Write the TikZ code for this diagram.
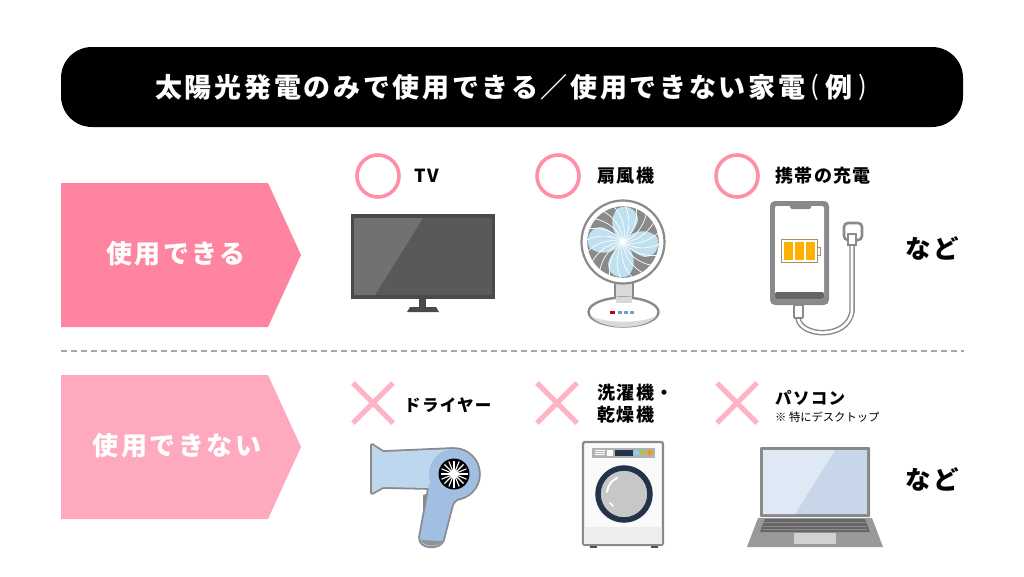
\documentclass[tikz,border=0pt]{standalone}
\usepackage{fontspec}
\setmainfont{Noto Sans CJK JP}
\newfontfamily\jpt[LetterSpace=10]{Noto Sans CJK JP}
\newfontfamily\jpm[LetterSpace=8]{Noto Sans CJK JP}
\definecolor{pinkA}{HTML}{FF84A0}
\definecolor{pinkB}{HTML}{FFA9BE}
\definecolor{ringC}{HTML}{FF8FA8}
\definecolor{crossC}{HTML}{FFB3C4}
\definecolor{devG}{HTML}{8A8A8A}
\definecolor{tvF}{HTML}{4A4A4C}
\definecolor{tvS}{HTML}{58595B}
\definecolor{tvH}{HTML}{707173}
\definecolor{bladeC}{HTML}{BFE0EE}
\definecolor{nozC}{HTML}{BDD7EE}
\definecolor{bodyC}{HTML}{A0BFE2}
\definecolor{navyC}{HTML}{24324A}
\definecolor{battC}{HTML}{A89060}
\definecolor{cellC}{HTML}{FFB000}
\definecolor{scrA}{HTML}{C7D6E8}
\definecolor{scrB}{HTML}{DFE9F5}
\tikzset{
  lab/.style={anchor=west,inner sep=0pt,font=\jpm\bfseries\fontsize{16.5}{20}\selectfont,text=black},
  labk/.style={anchor=west,inner sep=0pt,font=\jpm\bfseries\fontsize{18}{20}\selectfont,text=black},
  head/.style={inner sep=0pt,font=\jpt\bfseries\fontsize{26}{30}\selectfont,text=white},
  ttl/.style={inner sep=0pt,font=\jpt\bfseries\fontsize{27}{30}\selectfont,text=white},
  prn/.style={inner sep=0pt,font=\fontsize{26}{30}\selectfont,text=white},
  nado/.style={inner sep=0pt,font=\jpm\bfseries\fontsize{25.5}{30}\selectfont,text=black},
  okring/.style={draw=ringC,line width=3.6pt,fill=white},
  ngcross/.style={draw=crossC,line width=5pt},
  cableO/.style={draw=devG,line width=5.5pt,line cap=round},
  cableI/.style={draw=white,line width=2.6pt,line cap=round},
}
\begin{document}
\begin{tikzpicture}[x=1pt,y=-1pt]
\useasboundingbox (0,0) rectangle (1024,576);
\fill[white] (0,0) rectangle (1024,576);
% title
\fill[black,rounded corners=31pt] (61,47) rectangle (963,127);
\node[ttl,anchor=west] (title) at (155,87) {太陽光発電のみで使用できる／使用できない家電};
\node[prn] (tl) at (815,87) {(};
\node[ttl] (tm) at (839,87) {例};
\node[prn] (tr) at (863,87) {)};
% category arrows
\fill[pinkA] (61,183) -- (268,183) -- (301,255) -- (268,327) -- (61,327) -- cycle;
\node[head] (can) at (176,254) {使用できる};
\fill[pinkB] (61,375) -- (268,375) -- (301,447) -- (268,519) -- (61,519) -- cycle;
\node[head] (cannot) at (177,446) {使用できない};
% divider
\draw[draw=black!35,line width=1.2pt,dash pattern=on 6pt off 4pt] (61,351) -- (964,351);
% marks
\foreach \x in {378,558,737} \draw[okring] (\x,176) circle (21);
\foreach \x in {373,557,737} {
  \draw[ngcross] (\x-20,383) -- (\x+20,423);
  \draw[ngcross] (\x+20,383) -- (\x-20,423);
}
% labels
\node[labk] (tv) at (414,176) {TV};
\node[labk] (fanl) at (597,176) {扇風機};
\node[labk] (phl) at (775,176) {携帯の充電};
\node[lab] (dryl) at (404,405) {ドライヤー};
\node[labk] (wa1) at (597,393) {洗濯機・};
\node[labk] (wa2) at (597,415) {乾燥機};
\node[lab] (pcl) at (775,398) {パソコン};
\node[anchor=west,inner sep=0pt,font=\fontsize{11.3}{13}\selectfont] (pcn) at (775,417) {※ 特にデスクトップ};
\node[nado] (n1) at (932,248) {など};
\node[nado] (n2) at (932,479) {など};
% TV
\fill[tvF] (351,214) rectangle (495,299);
\fill[tvS] (354,218) rectangle (492,295);
\fill[tvH] (354,218) -- (423,218) -- (375,295) -- (354,295) -- cycle;
\fill[tvF] (419,299) rectangle (426,308);
\fill[tvF] (410,307) -- (436,307) -- (439,312) -- (407,312) -- cycle;
% Fan
\draw[devG,line width=2.2pt,fill=black!15] (615,280) rectangle (633,304);
\draw[devG,line width=2.4pt,fill=white] (623.5,312) ellipse (35 and 14.5);
\fill[black!15] (590,315) .. controls (600,331) and (647,331) .. (657,315) .. controls (646,324) and (601,324) .. (590,315) -- cycle;
\fill[black!15] (616,297) rectangle (632,303);
\fill[white] (612,303) rectangle (635,306);
\fill[red!75!black] (610,311) rectangle (615,314);
\foreach \x in {618,624,630} \fill[cyan!45!gray] (\x,311) rectangle (\x+4,314);
\draw[devG,line width=2.2pt,fill=white] (623,242) circle (41.5);
\fill[devG] (623,242) circle (36.5);
\begin{scope}[shift={(623,242)}]
\foreach \a in {0,90,180,270} {
  \begin{scope}[rotate=\a]
  \fill[bladeC] (0,0) .. controls (-11,-7) and (-15,-24) .. (-5,-34) .. controls (6,-38) and (15,-31) .. (15,-22) .. controls (13,-12) and (5,-6) .. (0,0) -- cycle;
  \end{scope}
}
\foreach \a in {0,18,...,342} {
  \begin{scope}[rotate=\a]
  \draw[white,line width=.7pt] (0,0) .. controls (7,-10) and (8,-24) .. (2,-37);
  \end{scope}
}
\fill[white] (0,0) circle (3);
\draw[white,line width=1.4pt] (0,0) circle (36.5);
\end{scope}
% Phone
\draw[cableO] (798,318) .. controls (800,337) and (847,340) .. (852,312) -- (852,240);
\draw[cableI] (798,318) .. controls (800,337) and (847,340) .. (852,312) -- (852,240);
\draw[devG,line width=1.8pt,fill=white,rounded corners=1pt] (794,305) rectangle (803,318);
\draw[devG,line width=2.6pt,fill=white,rounded corners=4pt] (844,223) rectangle (862,240);
\draw[devG,line width=1.4pt,fill=white] (848,234) rectangle (856,245);
\fill[devG,rounded corners=5pt] (770,201) rectangle (829,305);
\fill[white,rounded corners=2pt] (775,206) rectangle (824,299);
\fill[black!60,rounded corners=2pt] (775,292) rectangle (824,299);
\fill[devG,rounded corners=1.5pt] (790,205) rectangle (811,209);
\draw[battC,line width=1pt,fill=white] (781,239.5) rectangle (817,262.5);
\draw[battC,line width=1pt] (817,247) rectangle (820,255);
\foreach \x in {784,795,806} \fill[cellC] (\x,242) rectangle (\x+8.5,260);
% Dryer: silhouette outlined first, then fills
\fill[devG] (423,495) -- (430,493) -- (428,520) -- (423,520) -- cycle;
\draw[devG,line width=3.6pt,line join=round,fill=devG] (372,445) -- (383,452) -- (452,449) -- (454,488) -- (428,488) -- (383,487) -- (372,493) -- cycle;
\draw[devG,line width=3.6pt,line join=round,fill=devG] (429,488) -- (420,537) .. controls (419,549) and (440,549) .. (443,540) -- (452,505) .. controls (455,497) and (465,497) .. (470,490) -- cycle;
\draw[devG,line width=3.6pt,fill=devG] (454,474) circle (25);
\fill[nozC] (372,445) -- (383,452) -- (452,449) -- (454,488) -- (428,488) -- (383,487) -- (372,493) -- cycle;
\fill[bodyC] (429,488) -- (420,537) .. controls (419,549) and (440,549) .. (443,540) -- (452,505) .. controls (455,497) and (465,497) .. (470,490) -- cycle;
\fill[bodyC] (454,474) circle (25);
\fill[bodyC] (429,484) -- (450,484) -- (450,497) -- (428,497) -- cycle;
\fill[devG!85!bodyC] (421,540) .. controls (424,547) and (439,547) .. (442,541) -- cycle;
\fill[black] (454,474) circle (15.5);
\foreach \a in {0,22.5,...,340} \draw[white,line width=1.1pt] (454,474) -- ++(\a:13.5);
\fill[white] (454,474) circle (4.5);
% Washer
\fill[black!70] (590,543) rectangle (597,548);
\fill[black!70] (651,543) rectangle (658,548);
\draw[devG,line width=2.2pt,fill=black!2,rounded corners=1.5pt] (583,442) rectangle (663,545);
\fill[black!7] (584,527) rectangle (662,544);
\fill[black!30] (592,448) rectangle (655,457.5);
\fill[white] (606.5,449.5) rectangle (613,456);
\foreach \y in {450,452,454} \draw[white,line width=.6pt] (595,\y) -- (605,\y);
\fill[navyC] (615,449.5) rectangle (632.5,456);
\fill[cyan!50!white] (636.3,452.7) circle (2.6);
\fill[lime!60!gray] (643,452.7) circle (2.6);
\fill[orange!85!yellow] (649.7,452.7) circle (2.6);
\draw[navyC,line width=5.5pt,fill=black!22] (624,494) circle (26);
\draw[white,line width=2pt,line cap=round] (607,492) .. controls (608,485) and (611,481) .. (617,478);
\draw[white,line width=1.6pt,line cap=round] (610,503) -- (613,506);
% Laptop
\fill[black!40] (758,518) -- (872,518) -- (883,547) -- (747,547) -- cycle;
\fill[black!60] (765,519) -- (865,519) -- (870,532) -- (760,532) -- cycle;
\foreach \y in {522.5,526,529} \draw[black!45,line width=.5pt] (763,\y) -- (867,\y);
\fill[black!18] (794,533) rectangle (836,544);
\fill[devG,rounded corners=1pt] (760,447) rectangle (870,517);
\fill[scrA] (763,450) rectangle (867,514);
\fill[scrB] (763,450) -- (835,450) -- (795,514) -- (763,514) -- cycle;
\end{tikzpicture}
\end{document}
